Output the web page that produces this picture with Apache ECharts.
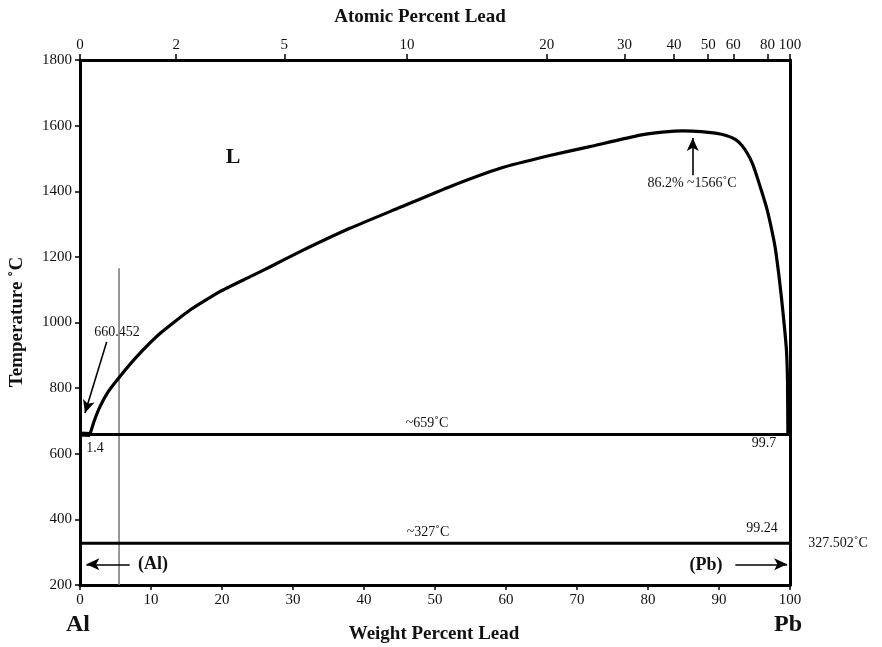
<!DOCTYPE html>
<html><head><meta charset="utf-8">
<script src="https://cdn.jsdelivr.net/npm/echarts@6/dist/echarts.min.js"></script>
<style>html,body{margin:0;padding:0;background:#fff}#c{width:882px;height:647px}</style>
</head><body><div id="c"></div>
<script>
// ---- data ----
const weightMin = 0, weightMax = 100, weightInterval = 10;
const tempMin = 200, tempMax = 1800, tempInterval = 200;
const atomicTickLabels = [0, 2, 5, 10, 20, 30, 40, 50, 60, 80, 100];
const liquidusWt = [1.4, 2.0, 2.8, 4.0, 5.6, 8.0, 11.3, 15.5, 19.7, 23.9, 26.8, 31.0, 38.0, 45.1, 52.1, 59.2, 66.0, 71.8, 78.9, 82.0, 85.0, 87.5, 89.5, 91.0, 92.3, 93.2, 94.0, 94.7, 95.3, 96.0, 96.7, 97.3, 97.9, 98.4, 98.8, 99.2, 99.5, 99.65, 99.7];
const liquidusT  = [659, 700, 743, 790, 835, 896, 967, 1038, 1094, 1139, 1170, 1216, 1287, 1351, 1414, 1470, 1508, 1536, 1571, 1580, 1584, 1582, 1577, 1570, 1558, 1540, 1515, 1485, 1448, 1400, 1350, 1295, 1230, 1150, 1075, 990, 916, 820, 659];
const alMeltWt = [0, 1.4];
const alMeltT = [660.452, 659];
const monotecticT = 659;
const eutecticT = 327;
const grayLineWt = 5.5;
const grayLineT = [200, 1165];

// atomic % Pb -> weight % Pb (unit conversion for the top axis)
const M_PB = 207.2, M_AL = 26.98;
function atToWt(a){ return a*M_PB/(a*M_PB + (100-a)*M_AL)*100; }
function wtToAt(w){ const p=w/M_PB, q=(100-w)/M_AL; return p/(p+q)*100; }
const atomicTickPos = atomicTickLabels.map(atToWt);

const F = 'Liberation Serif';
const chart = echarts.init(document.getElementById('c'), null, {renderer:'canvas'});

function pairs(xs, ys){ return xs.map((x,i)=>[x, ys[i]]); }
function txt(t, x, y, size, bold, extra){
  return Object.assign({type:'text', x:x, y:y, style:{text:t, fontFamily:F, fontSize:size, fontWeight:bold?'bold':'normal', fill:'#111', align:'center', verticalAlign:'middle'}}, extra||{});
}
const lineStyleBlack = {color:'#000', width:3};
const plain = v => String(v);

chart.setOption({
  animation:false,
  backgroundColor:'#fff',
  grid:{left:80, right:92, top:60, bottom:62},
  xAxis:[
    {type:'value', min:weightMin, max:weightMax, interval:weightInterval, position:'bottom',
     axisLine:{show:true, onZero:false, lineStyle:{color:'#000', width:3}},
     axisTick:{show:true, length:5, inside:false, lineStyle:{color:'#000', width:1.5}},
     axisLabel:{color:'#111', fontFamily:F, fontSize:15, margin:8, formatter:plain},
     splitLine:{show:false}},
    {type:'value', min:weightMin, max:weightMax, position:'top',
     axisLine:{show:true, onZero:false, lineStyle:{color:'#000', width:3}},
     axisTick:{show:true, length:6, customValues:atomicTickPos, lineStyle:{color:'#000', width:1.5}},
     axisLabel:{show:true, customValues:atomicTickPos, color:'#111', fontFamily:F, fontSize:15, margin:7,
       formatter:function(v){ return String(Math.round(wtToAt(v))); }},
     splitLine:{show:false}}
  ],
  yAxis:[
    {type:'value', min:tempMin, max:tempMax, interval:tempInterval, position:'left',
     axisLine:{show:true, onZero:false, lineStyle:{color:'#000', width:3}},
     axisTick:{show:true, length:5, lineStyle:{color:'#000', width:1.5}},
     axisLabel:{color:'#111', fontFamily:F, fontSize:15, margin:8, formatter:plain},
     splitLine:{show:false}},
    {type:'value', min:tempMin, max:tempMax, position:'right',
     axisLine:{show:true, onZero:false, lineStyle:{color:'#000', width:3}},
     axisTick:{show:false}, axisLabel:{show:false}, splitLine:{show:false}}
  ],
  series:[
    {type:'line', name:'liquidus', data:pairs(liquidusWt, liquidusT), showSymbol:false, smooth:0.15,
     lineStyle:{color:'#000', width:3.2, join:'round'}, z:5},
    {type:'line', name:'al', data:pairs(alMeltWt, alMeltT), showSymbol:false,
     lineStyle:{color:'#000', width:5}, z:5},
    {type:'line', name:'monotectic', data:[[weightMin, monotecticT],[weightMax, monotecticT]], showSymbol:false,
     lineStyle:lineStyleBlack},
    {type:'line', name:'eutectic', data:[[weightMin, eutecticT],[weightMax, eutecticT]], showSymbol:false,
     lineStyle:lineStyleBlack},
    {type:'line', name:'gray', data:[[grayLineWt, grayLineT[0]],[grayLineWt, grayLineT[1]]], showSymbol:false,
     lineStyle:{color:'#777', width:1.5}, z:1},
    {type:'line', name:'arrows', data:[], silent:true,
     markLine:{silent:true, symbol:['none','arrow'], symbolSize:[9,13], label:{show:false},
       lineStyle:{color:'#000', width:1.6, type:'solid'},
       data:[
         [{coord:[3.76, 941]}, {coord:[0.7, 724]}],
         [{coord:[86.3, 1449]}, {coord:[86.3, 1562]}],
         [{coord:[7.0, 263]}, {coord:[0.9, 263]}],
         [{coord:[92.3, 263]}, {coord:[99.6, 263]}]
       ]}}
  ],
  graphic:[
    txt('Atomic Percent Lead', 420, 17, 19, true),
    txt('Weight Percent Lead', 434, 634, 19, true),
    txt('Temperature ˚C', 17, 322, 19, true, {rotation:Math.PI/2}),
    txt('Al', 78, 625, 24, true),
    txt('Pb', 788, 625, 24, true),
    txt('L', 233, 157, 22, true),
    txt('660.452', 117, 332, 14, false),
    txt('1.4', 95, 448, 14, false),
    txt('~659˚C', 427, 423, 14, false),
    txt('~327˚C', 428, 532, 14, false),
    txt('99.7', 764, 443, 14, false),
    txt('99.24', 762, 528, 14, false),
    txt('327.502˚C', 838, 543, 14, false),
    txt('(Al)', 153, 564, 18, true),
    txt('(Pb)', 706, 565, 18, true),
    txt('86.2% ~1566˚C', 692, 183, 14, false)
  ]
});
</script></body></html>
